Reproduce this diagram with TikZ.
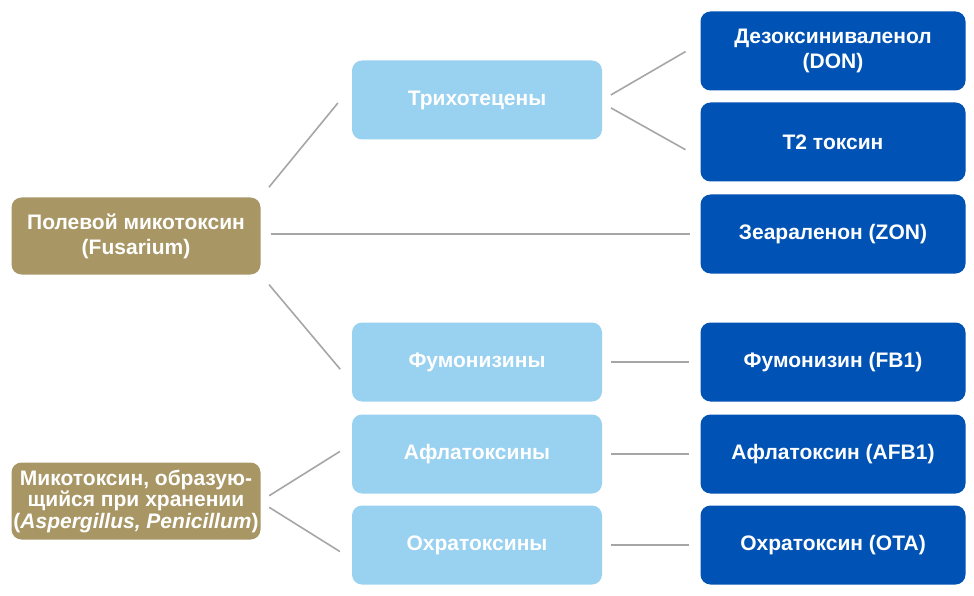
\documentclass[tikz,border=0pt]{standalone}
\usepackage{fontspec}
\setmainfont{Liberation Sans}
\definecolor{goldbox}{RGB}{168,150,100}
\definecolor{lightbox}{RGB}{153,209,240}
\definecolor{darkbox}{RGB}{0,82,180}
\definecolor{linkgray}{RGB}{166,166,166}
\begin{document}
\begin{tikzpicture}[x=1pt, y=-1pt,
    box/.style={rounded corners=10pt, text=white, align=center, inner sep=0pt,
      font=\bfseries\fontsize{21}{25}\selectfont},
    source/.style={box, fill=goldbox, minimum width=249pt, minimum height=77pt},
    group/.style={box, fill=lightbox, minimum width=250pt, minimum height=79pt},
    toxin/.style={box, fill=darkbox, minimum width=265pt, minimum height=79pt},
    link/.style={draw=linkgray, line width=1.6pt, shorten <=10pt, shorten >=11pt}]
    \useasboundingbox (0,0) rectangle (974,596);
    % Sources
    \node[source] (field) at (136,236) {Полевой микотоксин\\(Fusarium)};
    \node[source, font=\bfseries\fontsize{21}{21.5}\selectfont] (storage) at (136,501)
      {Микотоксин, образую-\\щийся при хранении\\(\textit{Aspergillus, Penicillum})};
    % Groups
    \node[group] (trich) at (477,100) {Трихотецены};
    \node[group] (fumon) at (477,362) {Фумонизины};
    \node[group] (aflat) at (477,454) {Афлатоксины};
    \node[group] (ochra) at (477,545) {Охратоксины};
    % Toxins
    \node[toxin] (don) at (833,51) {Дезоксиниваленол\\(DON)};
    \node[toxin] (t2) at (833,142) {T2 токсин};
    \node[toxin] (zon) at (833,234) {Зеараленон (ZON)};
    \node[toxin] (fb1) at (833,362) {Фумонизин (FB1)};
    \node[toxin] (afb1) at (833,454) {Афлатоксин (AFB1)};
    \node[toxin] (ota) at (833,545) {Охратоксин (OTA)};
    % Links
    \draw[link, shorten <=13pt, shorten >=22pt] (field.north east) -- ([yshift=14pt]trich.west);
    \draw[link, shorten >=10pt] (field.east |- zon.west) -- (zon.west);
    \draw[link, shorten <=13pt, shorten >=18pt] (field.south east) -- ([yshift=-21pt]fumon.west);
    \draw[link, shorten >=17pt] (trich.east) -- ([yshift=8pt]don.west);
    \draw[link, shorten >=17pt] ([yshift=-3pt]trich.east) -- ([yshift=-16pt]t2.west);
    \draw[link, shorten <=9pt] (fumon) -- (fb1);
    \draw[link, shorten <=9pt] (aflat) -- (afb1);
    \draw[link, shorten <=9pt] (ochra) -- (ota);
    \draw[link, shorten >=14pt] (storage.east) -- ([yshift=10pt]aflat.west);
    \draw[link, shorten >=14pt] ([yshift=-1pt]storage.east) -- ([yshift=-14pt]ochra.west);
\end{tikzpicture}
\end{document}
